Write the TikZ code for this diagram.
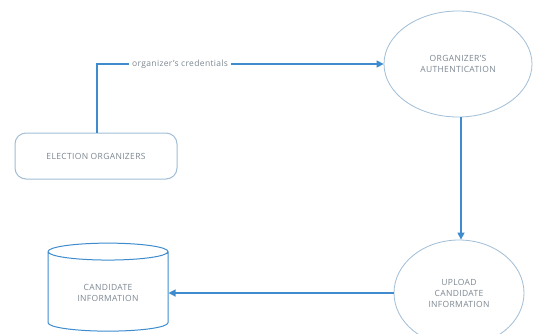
\documentclass[tikz,border=0pt]{standalone}
\usepackage{fontspec}
\setmainfont{Open Sans}[LetterSpace=4]
\usetikzlibrary{shapes.geometric,arrows.meta}
\definecolor{linec}{RGB}{62,140,205}
\definecolor{borderc}{RGB}{160,190,215}
\definecolor{textc}{RGB}{125,135,145}
\begin{document}
\begin{tikzpicture}[x=1pt,y=-1pt,
  txt/.style={font=\fontsize{8.5}{11}\selectfont, text=textc, align=center},
  proc/.style={ellipse, draw=borderc, line width=0.8pt, txt},
  conn/.style={draw=linec, line width=1.2pt, -{Triangle[length=7pt,width=7pt]}}]
\useasboundingbox (0,0) rectangle (533,333);
\fill[white] (0,0) rectangle (533,333);
\node[txt, draw=borderc, line width=1pt, rounded corners=11pt, minimum width=162pt, minimum height=46pt] (org) at (96,156) {ELECTION ORGANIZERS};
\node[proc, minimum width=148pt, minimum height=106pt] (auth) at (458,64) {ORGANIZER'S\\AUTHENTICATION};
\node[proc, minimum width=130pt, minimum height=106pt] (upl) at (459,293) {UPLOAD\\CANDIDATE\\INFORMATION};
\node[txt, cylinder, shape border rotate=90, aspect=0.25, draw=linec, line width=1pt, minimum width=120pt, minimum height=88pt] (db) at (108,293) {CANDIDATE\\INFORMATION};
\coordinate (c1) at (97,64);
\draw[conn] (org.north -| c1) -- (c1) -- node[txt, fill=white, inner sep=3pt, pos=0.29] {organizer's credentials} (auth.west);
\draw[conn] (auth.south -| 461,0) -- (upl.north -| 461,0);
\draw[conn] (upl.west) -- (upl.west -| db.east);
\end{tikzpicture}
\end{document}
